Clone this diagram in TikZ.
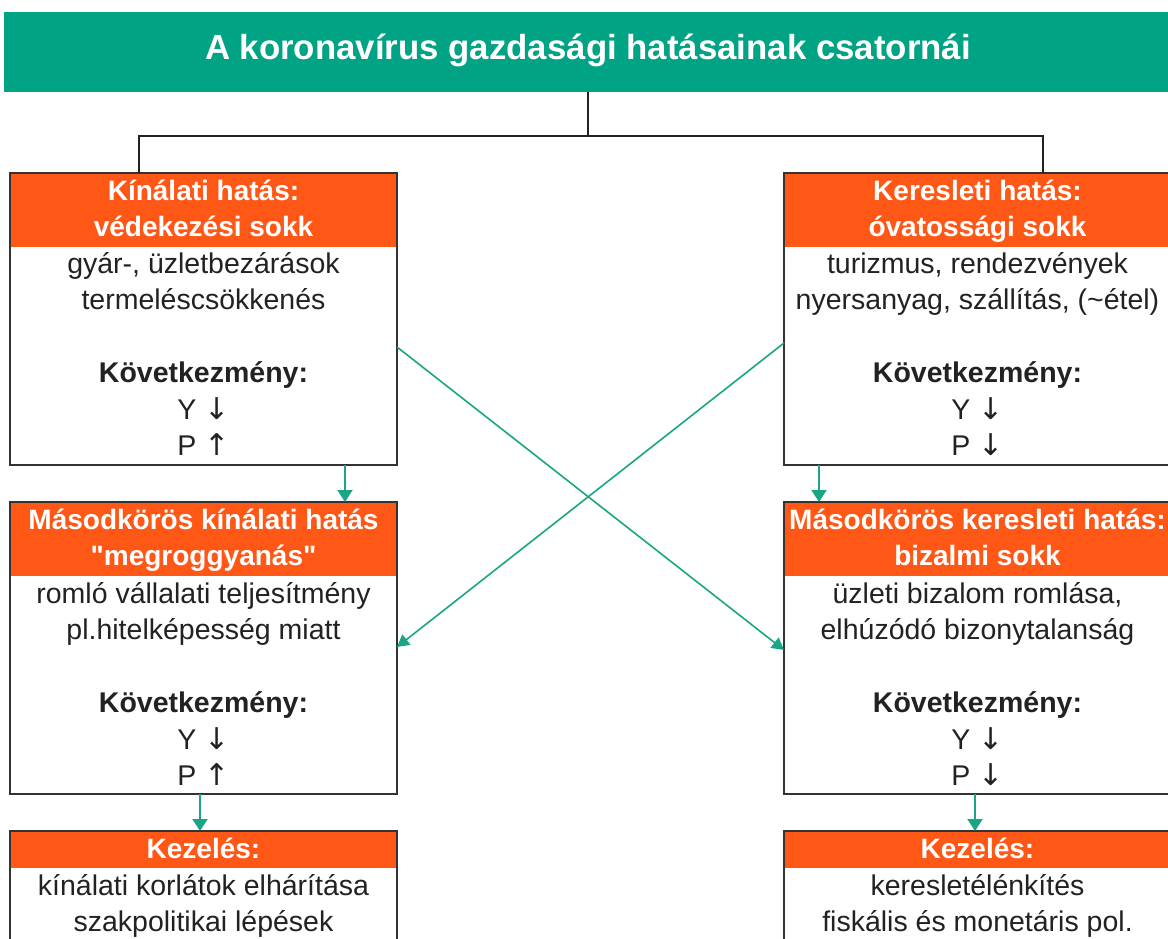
\documentclass[tikz,border=0pt]{standalone}
\usepackage{fontspec}
\setmainfont{Liberation Sans}
\newfontfamily\arrowfont{DejaVu Sans}
\newfontfamily\plainq{Liberation Sans}
\newcommand{\dn}{{\arrowfont\fontsize{30}{36}\selectfont ↓}}
\newcommand{\upa}{{\arrowfont\fontsize{30}{36}\selectfont ↑}}
\newcommand{\sq}{{\plainq\bfseries "}}
\usetikzlibrary{arrows.meta}
\definecolor{tgreen}{HTML}{00A383}
\definecolor{agreen}{HTML}{1AA585}
\definecolor{torange}{HTML}{FF5716}
\definecolor{ink}{HTML}{222222}
\definecolor{framec}{HTML}{333333}
\begin{document}
\begin{tikzpicture}[x=1pt,y=-1pt,
  frm/.style={draw=framec, line width=2pt, anchor=north west, minimum width=387pt, inner sep=0pt, outer sep=0pt},
  hdr/.style={fill=torange, anchor=north west, minimum width=387pt, inner sep=0pt, outer sep=0pt},
  htxt/.style={anchor=north, inner sep=0pt, align=center, text=white, font=\fontsize{28}{36}\selectfont\bfseries},
  btxt/.style={anchor=north, inner sep=0pt, align=center, text=ink, font=\fontsize{28.5}{36}\selectfont},
  link/.style={draw=ink, line width=1.5pt},
  flow/.style={draw=agreen, line width=2pt, -{Triangle[width=15pt,length=12pt]}},
  cross/.style={draw=agreen, line width=1.6pt, -{Triangle[width=13pt,length=12pt]}}
]
\path[use as bounding box] (0,0) rectangle (1168,938);
\clip (0,0) rectangle (1168,938);
\fill[white] (0,0) rectangle (1168,938);

% title
\node[fill=tgreen, anchor=north west, minimum width=1168pt, minimum height=80pt, inner sep=0pt, outer sep=0pt] (title) at (4,12) {};
\node[anchor=base, inner sep=0pt, text=white, font=\bfseries\fontsize{34.8}{40}\selectfont] (ttl) at (588,59) {A koronavírus gazdasági hatásainak csatornái};

% headers
\node[hdr, minimum height=74pt] (h1) at (10,173) {};
\node[hdr, minimum height=74pt] (h2) at (784,173) {};
\node[hdr, minimum height=74pt] (h3) at (10,502) {};
\node[hdr, minimum height=74pt] (h4) at (784,502) {};
\node[hdr, minimum height=37pt] (h5) at (10,831) {};
\node[hdr, minimum height=37pt] (h6) at (784,831) {};

% frames
\node[frm, minimum height=292pt] (b1) at (10,173) {};
\node[frm, minimum height=292pt] (b2) at (784,173) {};
\node[frm, minimum height=292pt] (b3) at (10,502) {};
\node[frm, minimum height=292pt] (b4) at (784,502) {};
\node[frm, minimum height=200pt] (b5) at (10,831) {};
\node[frm, minimum height=200pt] (b6) at (784,831) {};

% header texts
\node[htxt] (t1) at (203.5,174.8) {\strut Kínálati hatás:\\védekezési sokk};
\node[htxt] (t2) at (977.5,174.8) {\strut Keresleti hatás:\\óvatossági sokk};
\node[htxt] (t3) at (203.5,503.8) {\strut Másodkörös kínálati hatás\\\sq megroggyanás\sq};
\node[htxt] (t4) at (977.5,503.8) {\strut Másodkörös keresleti hatás:\\bizalmi sokk};
\node[htxt] (t5) at (203.5,832.8) {\strut Kezelés:};
\node[htxt] (t6) at (977.5,832.8) {\strut Kezelés:};

% body texts
\node[btxt] (s1) at (203.5,247.8) {\strut gyár-, üzletbezárások\\termeléscsökkenés\\[37pt]\textbf{Következmény:}\\[1pt]Y \dn\\P \upa};
\node[btxt] (s2) at (977.5,247.8) {\strut turizmus, rendezvények\\nyersanyag, szállítás, (\char"007E étel)\\[37pt]\textbf{Következmény:}\\[1pt]Y \dn\\P \dn};
\node[btxt] (s3) at (203.5,577.8) {\strut romló vállalati teljesítmény\\pl.hitelképesség miatt\\[37pt]\textbf{Következmény:}\\[1pt]Y \dn\\P \upa};
\node[btxt] (s4) at (977.5,577.8) {\strut üzleti bizalom romlása,\\elhúzódó bizonytalanság\\[37pt]\textbf{Következmény:}\\[1pt]Y \dn\\P \dn};
\node[btxt] (s5) at (203.5,869.8) {\strut kínálati korlátok elhárítása\\szakpolitikai lépések};
\node[btxt] (s6) at (977.5,869.8) {\strut keresletélénkítés\\fiskális és monetáris pol.};

% tree connector
\coordinate (split) at (588,136);
\coordinate (jl) at (139,173);
\coordinate (jr) at (1043,173);
\draw[link] (title.south) -- (split);
\draw[link] (jl) |- (split) -| (jr);

% vertical flows
\coordinate (f1) at (345,465);
\coordinate (f2) at (819,465);
\coordinate (f3) at (200,794);
\coordinate (f4) at (975,794);
\draw[flow] (f1) -- (f1 |- b3.north);
\draw[flow] (f2) -- (f2 |- b4.north);
\draw[flow] (f3) -- (f3 |- b5.north);
\draw[flow] (f4) -- (f4 |- b6.north);

% crossing arrows
\coordinate (c1s) at (397,347);
\coordinate (c1e) at (784,650);
\coordinate (c2s) at (784,343);
\coordinate (c2e) at (397,647);
\draw[cross] (c1s) -- (c1e);
\draw[cross] (c2s) -- (c2e);
\end{tikzpicture}
\end{document}
